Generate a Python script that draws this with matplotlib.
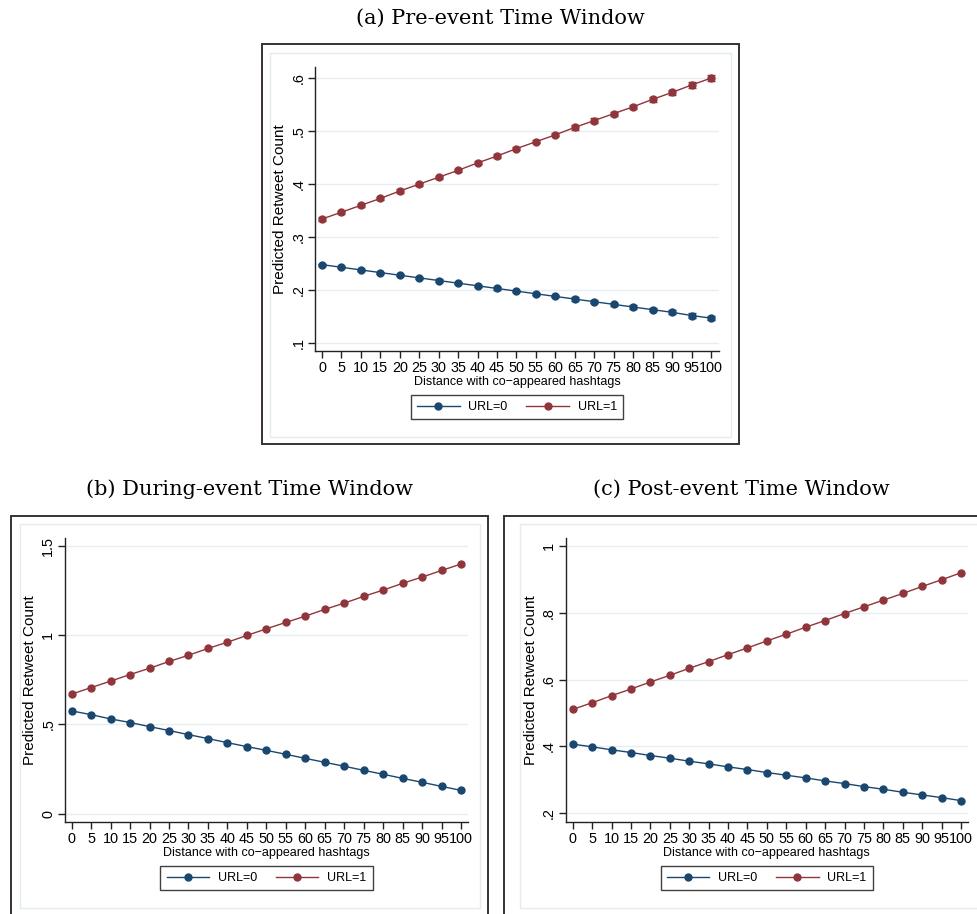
import matplotlib.pyplot as plt
from matplotlib.patches import Rectangle
from matplotlib.lines import Line2D

W, H = 978, 914

distance = list(range(0, 101, 5))

# (a) pre-event
pre_url0 = [0.248, 0.243, 0.238, 0.233, 0.228, 0.223, 0.218, 0.213, 0.208, 0.203, 0.198,
            0.193, 0.188, 0.183, 0.178, 0.173, 0.168, 0.163, 0.158, 0.152, 0.147]
pre_url1 = [0.334, 0.347, 0.360, 0.373, 0.387, 0.400, 0.413, 0.426, 0.440, 0.453, 0.467,
            0.480, 0.493, 0.507, 0.520, 0.533, 0.546, 0.560, 0.573, 0.587, 0.600]
pre_ci0 = [0.002, 0.002, 0.002, 0.002, 0.002, 0.002, 0.002, 0.002, 0.002, 0.002, 0.002,
           0.002, 0.002, 0.003, 0.003, 0.003, 0.003, 0.003, 0.004, 0.004, 0.004]
pre_ci1 = [0.003, 0.003, 0.003, 0.003, 0.003, 0.003, 0.003, 0.003, 0.003, 0.003, 0.003,
           0.003, 0.003, 0.004, 0.004, 0.004, 0.004, 0.005, 0.005, 0.005, 0.006]

# (b) during-event
during_url0 = [0.576, 0.555, 0.531, 0.511, 0.488, 0.466, 0.443, 0.421, 0.398, 0.376, 0.355,
               0.333, 0.310, 0.288, 0.266, 0.243, 0.221, 0.198, 0.176, 0.153, 0.131]
during_url1 = [0.670, 0.707, 0.743, 0.780, 0.815, 0.853, 0.888, 0.926, 0.961, 0.999, 1.036,
               1.072, 1.107, 1.145, 1.180, 1.218, 1.253, 1.291, 1.326, 1.363, 1.399]

# (c) post-event
post_url0 = [0.407, 0.399, 0.390, 0.382, 0.373, 0.365, 0.356, 0.348, 0.339, 0.331, 0.322,
             0.314, 0.306, 0.297, 0.289, 0.280, 0.272, 0.263, 0.255, 0.247, 0.238]
post_url1 = [0.511, 0.531, 0.552, 0.572, 0.593, 0.613, 0.634, 0.654, 0.675, 0.695, 0.716,
             0.736, 0.757, 0.777, 0.798, 0.818, 0.838, 0.858, 0.879, 0.899, 0.920]

NAVY = "#1a476f"
MAROON = "#90353b"
GRID = "#e6eef0"
FRAME = "#e3ecef"
SANS = "Liberation Sans"
SERIF = "DejaVu Serif"
MS = 5

fig = plt.figure(figsize=(W / 100, H / 100), dpi=100)


def fbox(x0, y0, x1, y1):
    return [x0 / W, 1 - y1 / H, (x1 - x0) / W, (y1 - y0) / H]


def frame(x0, y0, x1, y1, color, lw):
    l, b, w, h = fbox(x0, y0, x1, y1)
    fig.patches.append(Rectangle((l, b), w, h, transform=fig.transFigure,
                                 fill=False, edgecolor=color, linewidth=lw))


def fmt(v):
    s = f"{v:g}"
    return s[1:] if s.startswith("0.") else s


def panel(box, xlim, ylim, yticks, url0, url1, ci0=None, ci1=None):
    ax = fig.add_axes(fbox(*box))
    for ys, ci, c in ((url0, ci0, NAVY), (url1, ci1, MAROON)):
        if ci is not None:
            ax.errorbar(distance, ys, yerr=ci, fmt="none", ecolor=c,
                        elinewidth=1, capsize=3, capthick=1, zorder=3)
        ax.plot(distance, ys, color=c, lw=1.0, marker="o", ms=MS,
                mec=c, mfc=c, zorder=4)
    ax.set_xlim(*xlim)
    ax.set_ylim(*ylim)
    ax.set_xticks(distance)
    ax.set_xticklabels([str(d) for d in distance], fontsize=10.4, family=SANS)
    ax.set_yticks(yticks)
    ax.set_yticklabels([fmt(t) for t in yticks], fontsize=10.4, family=SANS,
                       rotation=90, va="center")
    ax.grid(axis="y", color=GRID, lw=1)
    ax.set_axisbelow(True)
    for s in ("top", "right"):
        ax.spines[s].set_visible(False)
    for s in ("left", "bottom"):
        ax.spines[s].set_color("#222222")
        ax.spines[s].set_linewidth(1)
    ax.tick_params(direction="out", length=5, width=1, color="#222222", pad=2)
    ax.set_xlabel("Distance with co\u2212appeared hashtags", fontsize=9,
                  family=SANS, labelpad=1)
    ax.set_ylabel("Predicted Retweet Count", fontsize=11, family=SANS, labelpad=3)
    handles = [Line2D([], [], color=NAVY, marker="o", ms=MS, lw=1.0),
               Line2D([], [], color=MAROON, marker="o", ms=MS, lw=1.0)]
    cx = (box[0] + box[2]) / 2
    leg = fig.legend(handles, ["URL=0", "URL=1"], ncol=2, loc="center",
                     bbox_to_anchor=(cx / W, 1 - (box[3] + 56) / H),
                     prop={"family": SANS, "size": 9}, frameon=True,
                     fancybox=False, edgecolor="#111111", handlelength=3.4,
                     columnspacing=1.5, handletextpad=0.7, borderpad=0.5)
    leg.get_frame().set_linewidth(1)
    return ax


# outer and inner graph-region frames
frame(262, 44, 739, 444, "#333333", 1.4)
frame(270, 53, 731, 437, FRAME, 1)
frame(11, 516, 488, 916, "#333333", 1.4)
frame(20, 524, 480, 908, FRAME, 1)
frame(504, 516, 982, 916, "#333333", 1.4)
frame(520, 524, 990, 908, FRAME, 1)

panel((315, 67, 719, 351), (-1.8, 102.06), (0.085, 0.621),
      [0.1, 0.2, 0.3, 0.4, 0.5, 0.6], pre_url0, pre_url1, pre_ci0, pre_ci1)
panel((65, 538, 468, 822), (-1.72, 101.8), (-0.0465, 1.545),
      [0, 0.5, 1, 1.5], during_url0, during_url1)
panel((565.7, 538, 968, 822), (-1.8, 101.8), (0.174, 1.024),
      [0.2, 0.4, 0.6, 0.8, 1], post_url0, post_url1)

fig.text(500 / W, 1 - 18 / H, "(a) Pre-event Time Window", family=SERIF,
         fontsize=15, ha="center", va="center")
fig.text(250 / W, 1 - 489 / H, "(b) During-event Time Window", family=SERIF,
         fontsize=15, ha="center", va="center")
fig.text(741 / W, 1 - 489 / H, "(c) Post-event Time Window", family=SERIF,
         fontsize=15, ha="center", va="center")

fig.savefig("out.png", dpi=100, facecolor="white")
